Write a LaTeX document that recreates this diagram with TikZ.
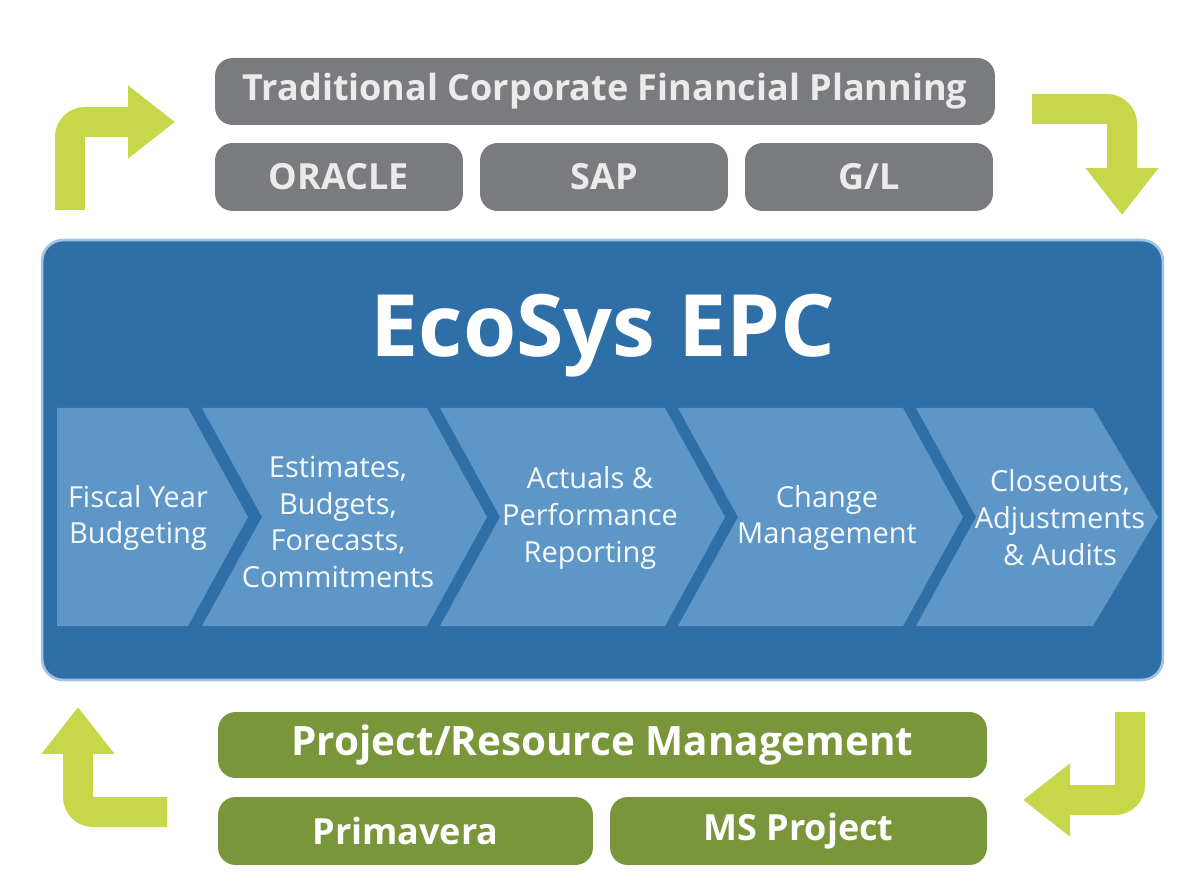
\documentclass[tikz,border=0pt]{standalone}
\usepackage{fontspec}
\setmainfont{Open Sans}
\usetikzlibrary{arrows.meta}
\definecolor{epcblue}{RGB}{47,111,168}
\definecolor{epcedge}{RGB}{160,196,228}
\definecolor{stepblue}{RGB}{93,150,199}
\definecolor{erpgray}{RGB}{122,123,126}
\definecolor{pmgreen}{RGB}{122,150,58}
\definecolor{flowlime}{RGB}{200,214,74}
\tikzset{
  erpbox/.style={fill=erpgray, rounded corners=10pt, inner sep=0pt,
    text=white!92!black, font=\bfseries\fontsize{20.5}{24}\selectfont},
  pmbox/.style={fill=pmgreen, rounded corners=10pt, inner sep=0pt,
    text=white, font=\bfseries\fontsize{20.5}{24}\selectfont},
  steptext/.style={text=white!94!stepblue, align=center, inner sep=0pt,
    font=\fontsize{16.5}{21}\selectfont},
  flowarrow/.style={draw=flowlime, line width=0.6cm, rounded corners=0.3cm,
    -{Triangle[length=0.94cm,width=1.4cm]}}
}
\begin{document}
\begin{tikzpicture}[x=0.02cm, y=-0.02cm]
   \useasboundingbox (0,0) rectangle (1186,884);
   % financial planning on top
   \node[erpbox, minimum width=15.6cm, minimum height=1.34cm] (fin) at (605,91.5)
      {Traditional Corporate Financial Planning};
   \def \ErpBoxes {
      oracle/339/ORACLE,
      sap/604/SAP,
      gl/869/{G/L}}
   \foreach \n / \x / \t in \ErpBoxes {
      \node[erpbox, minimum width=4.96cm, minimum height=1.36cm] (\n) at (\x,177) {\t};
   }
   % the EPC block
   \node[fill=epcblue, draw=epcedge, line width=1.5pt, rounded corners=12pt,
      minimum width=22.42cm, minimum height=8.8cm] (epc) at (602.5,460) {};
   \node[text=white, font=\bfseries\fontsize{49}{52}\selectfont] (title) at (603,336) {EcoSys EPC};
   \fill[stepblue] (57,408) -- (188,408) -- (248,517) -- (188,626) -- (57,626) -- cycle;
   \foreach \l / \r / \p in {202/427/487, 440/665/725, 678/903/963, 916/1093/1158} {
      \fill[stepblue] (\l,408) -- (\r,408) -- (\p,517) -- (\r,626) -- (\l,626) -- (\l+60,517) -- cycle;
   }
   \def \Steps {
      step1/138/518/{Fiscal Year\\Budgeting},
      step2/338/522/{Estimates,\\Budgets,\\Forecasts,\\Commitments},
      step3/590/518/{Actuals \&\\Performance\\Reporting},
      step4/827/518/{Change\\Management},
      step5/1060/518/{Closeouts,\\Adjustments\\\& Audits}}
   \foreach \n / \x / \y / \t in \Steps {
      \node[steptext] (\n) at (\x,\y) {\t};
   }
   % project tools below
   \node[pmbox, font=\bfseries\fontsize{23}{26}\selectfont, minimum width=15.38cm,
      minimum height=1.32cm] (prm) at (602.5,745) {Project/Resource Management};
   \node[pmbox, minimum width=7.5cm, minimum height=1.36cm] (p6) at (405.5,831) {Primavera};
   \node[pmbox, minimum width=7.54cm, minimum height=1.36cm] (msp) at (798.5,831) {MS Project};
   % the loop of arrows
   \coordinate (tl0) at (70,210);   \coordinate (tl1) at (175,122);
   \coordinate (tr0) at (1032,109); \coordinate (tr1) at (1122,215);
   \coordinate (br0) at (1130,712); \coordinate (br1) at (1023,800);
   \coordinate (bl0) at (167,812);  \coordinate (bl1) at (78,707);
   \draw[flowarrow] (tl0) |- (tl1);
   \draw[flowarrow] (tr0) -| (tr1);
   \draw[flowarrow] (br0) |- (br1);
   \draw[flowarrow] (bl0) -| (bl1);
\end{tikzpicture}
\end{document}
